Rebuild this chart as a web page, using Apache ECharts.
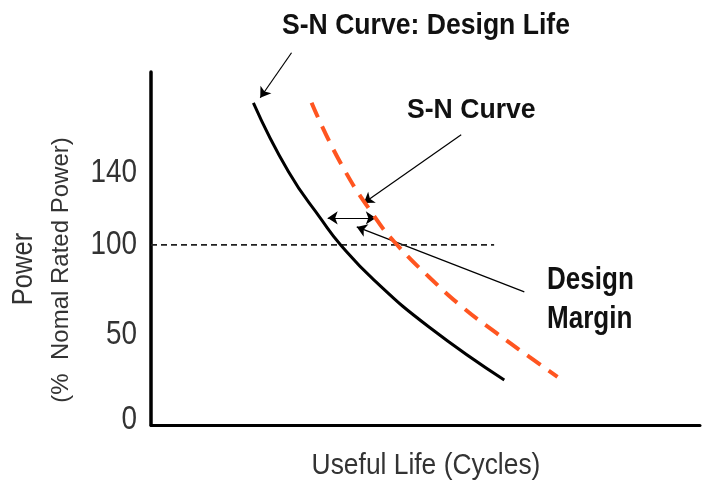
<!DOCTYPE html>
<html><head><meta charset="utf-8">
<script src="https://cdn.jsdelivr.net/npm/echarts@6/dist/echarts.min.js"></script>
<style>html,body{margin:0;padding:0;background:#fff;overflow:hidden}#c{width:706px;height:485px}</style>
</head><body><div id="c"></div>
<script>
// Data (x: relative useful life, y: power % of normal rated)
const designLifeX = [18.65, 25.05, 31.08, 34.55, 40.59, 50.64, 64.35];
const designLifeY = [178.9, 140.6, 113.9, 100, 80.6, 54.4, 25];
const snCurveX = [29.25, 34.73, 41.13, 45.16, 50.64, 56.67, 62.89, 68.92, 74.04];
const snCurveY = [178.9, 144.4, 113.9, 98.9, 82.2, 65.6, 51.1, 37.8, 26.7];
const ratedLineX = [0, 62.5];
const ratedLineY = [100, 100];
const yTicks = [0, 50, 100, 140];
const yTickLabels = ['0', '50', '100', '140'];
// annotation arrows: [fromX, fromY, toX, toY]
const arrowDesignLife = [25.6, 206.7, 19.9, 181.7];
const arrowSN = [56.5, 161.1, 38.76, 123.3];
const arrowMargin = [68.0, 73.9, 37.48, 110];
const marginSpan = [32.18, 115, 40.95, 115];

const FN = '"Liberation Sans", Arial, sans-serif';
const zip = (xs, ys) => xs.map((x, i) => [x, ys[i]]);
const seg = a => ({coords: [[a[0], a[1]], [a[2], a[3]]]});

const chart = echarts.init(document.getElementById('c'));
const option = {
  animation: false,
  backgroundColor: '#fff',
  grid: {left: 151, right: 6, top: 72, bottom: 60, containLabel: false, outerBoundsMode: 'none'},
  xAxis: {
    type: 'value', min: 0, max: 100,
    axisLine: {show: true, lineStyle: {color: '#000', width: 3}},
    axisTick: {show: false}, axisLabel: {show: false}, splitLine: {show: false}
  },
  yAxis: {
    type: 'value', min: 0, max: 196,
    axisLine: {show: true, lineStyle: {color: '#000', width: 3.5}},
    axisTick: {show: false}, splitLine: {show: false},
    axisLabel: {show: false}
  },
  series: [
    {
      type: 'line', data: zip(ratedLineX, ratedLineY), symbol: 'none', silent: true,
      lineStyle: {color: '#222', width: 1.6, type: [6, 4]}
    },
    {
      type: 'line', data: zip(designLifeX, designLifeY), symbol: 'none', smooth: 0.5, silent: true,
      lineStyle: {color: '#000', width: 3}
    },
    {
      type: 'line', data: zip(snCurveX, snCurveY), symbol: 'none', smooth: 0.5, silent: true,
      lineStyle: {color: '#ff5520', width: 4, type: [16, 10]}
    },
    {
      type: 'lines', coordinateSystem: 'cartesian2d', clip: false, silent: true,
      symbol: ['none', 'arrow'], symbolSize: 10,
      lineStyle: {color: '#000', width: 1.2, opacity: 1, curveness: 0},
      data: [seg(arrowDesignLife), seg(arrowSN), seg(arrowMargin)]
    },
    {
      type: 'lines', coordinateSystem: 'cartesian2d', clip: false, silent: true,
      symbol: ['arrow', 'arrow'], symbolSize: 10,
      lineStyle: {color: '#000', width: 1.2, opacity: 1, curveness: 0},
      data: [seg(marginSpan)]
    }
  ]
};
chart.setOption(option);

// texts: tick labels placed through the axis scale, annotations and axis titles
const g = [];
yTicks.forEach((v, i) => {
  const p = chart.convertToPixel({yAxisIndex: 0}, v);
  g.push({type: 'text', x: 137, y: Math.min(p, 420), scaleX: 0.82,
    style: {text: yTickLabels[i], font: '34px ' + FN, fill: '#333', align: 'right', verticalAlign: 'middle'}});
});
g.push(
  {type: 'text', x: 426, y: 26, scaleX: 0.886, style: {text: 'S-N Curve: Design Life', font: 'bold 30px ' + FN, fill: '#111', align: 'center', verticalAlign: 'middle'}},
  {type: 'text', x: 407, y: 110, scaleX: 0.95, style: {text: 'S-N Curve', font: 'bold 28px ' + FN, fill: '#111', align: 'left', verticalAlign: 'middle'}},
  {type: 'text', x: 547, y: 280, scaleX: 0.84, style: {text: 'Design', font: 'bold 31px ' + FN, fill: '#111', align: 'left', verticalAlign: 'middle'}},
  {type: 'text', x: 547, y: 319, scaleX: 0.84, style: {text: 'Margin', font: 'bold 31px ' + FN, fill: '#111', align: 'left', verticalAlign: 'middle'}},
  {type: 'text', x: 426, y: 466, scaleX: 0.91, style: {text: 'Useful Life (Cycles)', font: '29px ' + FN, fill: '#333', align: 'center', verticalAlign: 'middle'}},
  {type: 'text', x: 24, y: 269, rotation: Math.PI / 2, scaleX: 0.85, style: {text: 'Power', font: '30px ' + FN, fill: '#333', align: 'center', verticalAlign: 'middle'}},
  {type: 'text', x: 61, y: 270, rotation: Math.PI / 2, style: {text: '(%  Nomal Rated Power)', font: '24px ' + FN, fill: '#333', align: 'center', verticalAlign: 'middle'}}
);
chart.setOption({graphic: g});
</script></body></html>
